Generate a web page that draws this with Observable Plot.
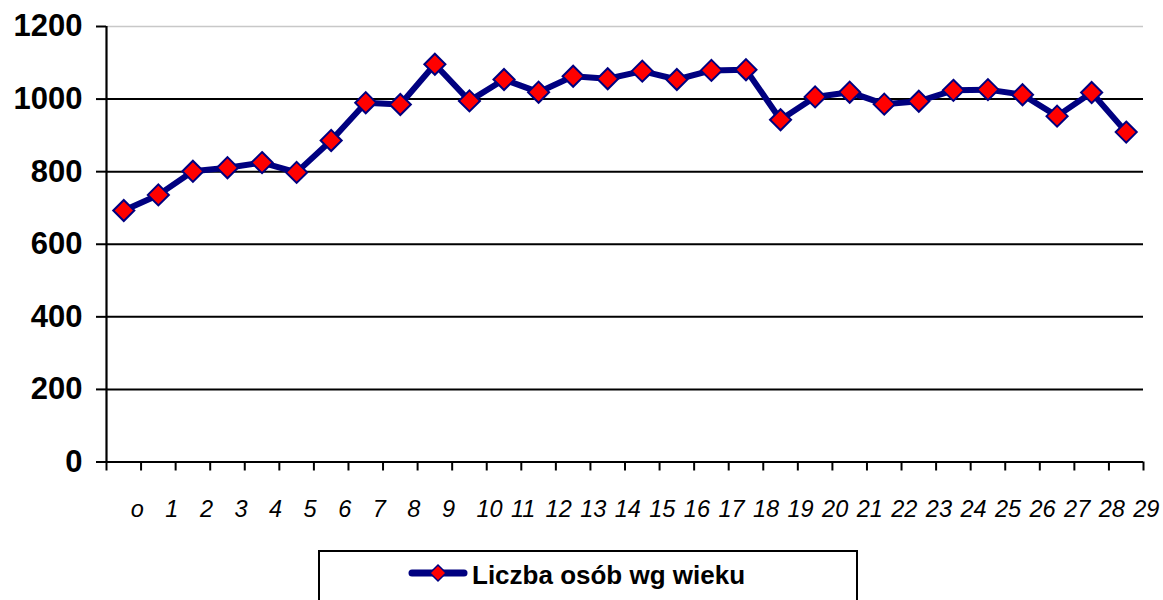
<!DOCTYPE html>
<html><head><meta charset="utf-8">
<script src="https://cdn.jsdelivr.net/npm/d3@7"></script>
<script src="https://cdn.jsdelivr.net/npm/@observablehq/plot@0.6"></script>
<style>
body{margin:0;background:#fff;font-family:Arial,"Liberation Sans",sans-serif;}
#wrap{position:relative;width:1163px;height:600px;overflow:hidden;background:#fff}
#legend{position:absolute;left:318px;top:550px;width:540px;height:80px;border:2px solid #000;box-sizing:border-box;background:#fff}
#legsym{position:absolute;left:400px;top:560px;}
#legtext{position:absolute;left:472px;top:562px;font-size:26px;line-height:26px;font-weight:bold;color:#000;white-space:nowrap}
</style></head><body>
<div id="wrap"><div id="chart"></div><div id="legend"></div>
<svg id="legsym" width="80" height="26"></svg>
<div id="legtext"></div></div>
<script>
const ageLabels = ["o","1","2","3","4","5","6","7","8","9","10","11","12","13","14","15","16","17","18","19","20","21","22","23","24","25","26","27","28","29"];
const counts = [693,736,801,811,825,798,886,990,985,1096,995,1054,1019,1063,1056,1077,1054,1079,1081,943,1006,1019,986,994,1024,1026,1012,953,1018,909];
const yTicks = [0,200,400,600,800,1000,1200];
const seriesName = "Liczba osób wg wieku";

const data = ageLabels.map((label,i)=>({label, pos:i+0.5, value:counts[i]}));
const bounds = d3.range(ageLabels.length+1);

const chart = Plot.plot({
  width:1163, height:535,
  marginLeft:106, marginRight:20, marginTop:26, marginBottom:73.5,
  style:{fontFamily:"Arial, 'Liberation Sans', sans-serif", background:"white", overflow:"visible", color:"#000"},
  x:{domain:[0, ageLabels.length], axis:null},
  y:{domain:[0, 1200], axis:null},
  marks:[
    Plot.ruleY(yTicks.filter(d=>d>0 && d<1200), {stroke:"#000", strokeWidth:2}),
    Plot.ruleY([1200], {stroke:"#c8c8c8", strokeWidth:1.5}),
    Plot.axisY({ticks:yTicks, tickSize:10, tickPadding:14, fontSize:31, fontWeight:"bold", stroke:"#000", strokeWidth:2, label:null, tickFormat:d=>String(d)}),
    Plot.axisX({ticks:bounds, tickSize:9, tickFormat:()=>"", stroke:"#000", strokeWidth:2, label:null}),
    Plot.ruleX([0], {stroke:"#000", strokeWidth:2.2}),
    Plot.ruleY([0], {stroke:"#000", strokeWidth:2.2}),
    Plot.text(data, {x:"pos", y:()=>0, text:"label", textAnchor:"start", dx:7, dy:47, fontSize:23.5, fontStyle:"italic", fill:"#000"}),
    Plot.line(data, {x:"pos", y:"value", stroke:"#000080", strokeWidth:6, strokeLinejoin:"round"}),
    Plot.dot(data, {x:"pos", y:"value", symbol:"diamond2", r:9.5, fill:"#ff0000", stroke:"#000080", strokeWidth:2})
  ]
});
document.getElementById("chart").appendChild(chart);

// legend
const ls = d3.select("#legsym");
ls.append("line").attr("x1",12).attr("x2",64).attr("y1",13).attr("y2",13)
  .attr("stroke","#000080").attr("stroke-width",7).attr("stroke-linecap","round");
ls.append("path").attr("d","M38,5L46,13L38,21L30,13Z").attr("fill","#ff0000").attr("stroke","#000080").attr("stroke-width",1.5);
document.getElementById("legtext").textContent = seriesName;
</script></body></html>
